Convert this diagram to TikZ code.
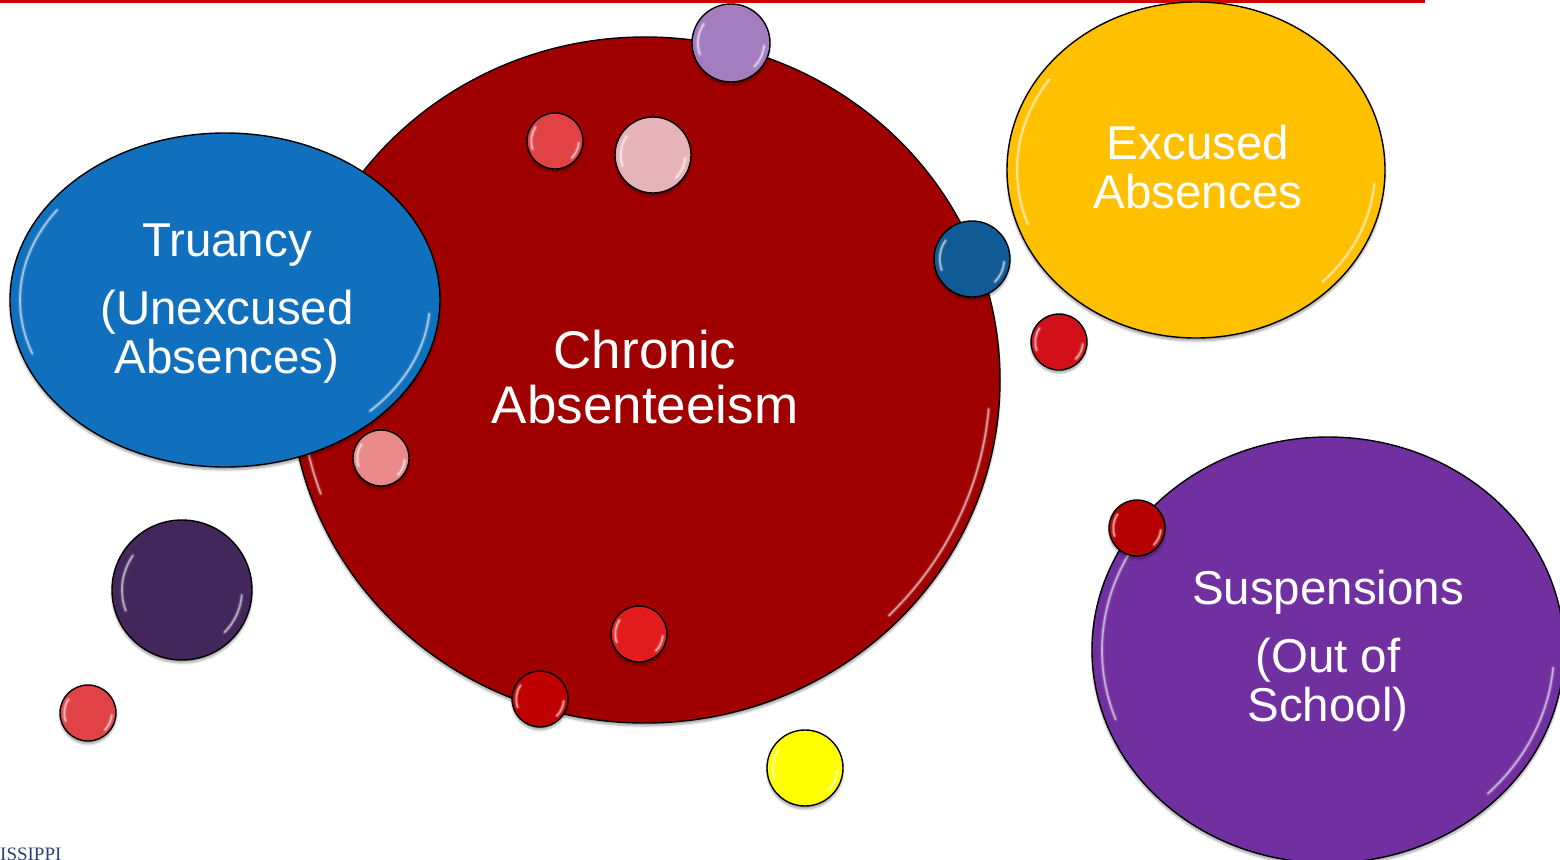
\documentclass[tikz,border=0pt]{standalone}
\usepackage{fontspec}
\setmainfont{Liberation Sans}
\newfontfamily\serifx{Liberation Serif}
\usetikzlibrary{shapes.geometric,shadows.blur}
\definecolor{topred}{HTML}{D00000}
\definecolor{mainred}{HTML}{A00000}
\definecolor{trublue}{HTML}{1170BD}
\definecolor{excyel}{HTML}{FFC000}
\definecolor{suspur}{HTML}{7030A0}
\definecolor{lav}{HTML}{A47DC0}
\definecolor{pinkb}{HTML}{E6B4B8}
\definecolor{dblue}{HTML}{105A95}
\definecolor{dpur}{HTML}{44275A}
\definecolor{redA}{HTML}{E04245}
\definecolor{redB}{HTML}{D31019}
\definecolor{coral}{HTML}{E88A8A}
\definecolor{redC}{HTML}{E21C1C}
\definecolor{redD}{HTML}{C00000}
\definecolor{redE}{HTML}{B40000}
\definecolor{yelb}{HTML}{FFFF00}
\definecolor{msblue}{HTML}{2E3F73}
\tikzset{
  bub/.style={ellipse, draw=black, line width=1.4pt, inner sep=0pt, text=white, align=center,
    blur shadow={shadow xshift=0pt, shadow yshift=-3pt, shadow blur steps=6, shadow opacity=35}},
  txtA/.style={font=\fontsize{47.5}{49}\selectfont, text=white, align=center},
  txtB/.style={font=\fontsize{53}{55}\selectfont, text=white, align=center},
  gl/.style={white, line cap=round},
}
% [opts] name, x, y, rx, ry, colour
\newcommand\bubble[7][]{%
  \node[bub, #1, fill=#7, minimum width=#5*2pt, minimum height=#6*2pt] (#2) at (#3,#4) {};
  \pgfmathsetmacro\ins{min(0.15*#5,10)}%
  \pgfmathsetmacro\ax{#5-\ins}%
  \pgfmathsetmacro\ay{#6-\ins}%
  \foreach \w/\o in {5/0.08,3/0.16,1.6/0.5}{%
    \draw[gl, line width=\w pt, opacity=\o] (#2.center) ++(145:\ax pt and \ay pt)
      arc[start angle=145, end angle=200, x radius=\ax pt, y radius=\ay pt];
    \draw[gl, line width=\w pt, opacity=\o] (#2.center) ++(-5:\ax pt and \ay pt)
      arc[start angle=-5, end angle=-45, x radius=\ax pt, y radius=\ay pt];
  }%
}
\begin{document}
\begin{tikzpicture}[x=1pt,y=-1pt]
\useasboundingbox (0,0) rectangle (1560,859);
\draw[topred, line width=3pt] (0,1.5) -- (1425,1.5);
\bubble{chronic}{645}{380}{355}{343}{mainred}
\node[txtB] (tchronic) at ([shift={(0,-3)}]chronic.center) {Chronic\\Absenteeism};
\bubble{truancy}{225}{300}{215}{167}{trublue}
\node[txtA] (ttruancy) at ([shift={(2,4)}]truancy.center) {Truancy\\[19pt](Unexcused\\Absences)};
\bubble{excused}{1196}{170}{189}{168}{excyel}
\node[txtA] (texcused) at ([shift={(2,-3)}]excused.center) {Excused\\Absences};
\bubble{susp}{1328}{650}{236}{213}{suspur}
\node[txtA] (tsusp) at ([shift={(0,1)}]susp.center) {Suspensions\\[19pt](Out of\\School)};
\bubble{b1}{731}{43}{39}{39}{lav}
\bubble{b2}{555}{141}{28}{28}{redA}
\bubble{b3}{653}{155}{38}{38}{pinkb}
\bubble{b4}{972}{259}{38}{38}{dblue}
\bubble{b5}{1059}{342}{28}{28}{redB}
\bubble{b6}{381}{458}{28}{28}{coral}
\bubble{b7}{182}{590}{70}{70}{dpur}
\bubble{b8}{88}{713}{28}{28}{redA}
\bubble{b9}{639}{634}{28}{28}{redC}
\bubble{b10}{540}{699}{28}{28}{redD}
\bubble{b11}{805}{768}{38}{38}{yelb}
\bubble{b12}{1137}{528}{28}{28}{redE}
\node[anchor=base west, inner sep=0pt, text=msblue, font=\serifx\fontsize{19}{19}\selectfont] (ms) at (0,860) {ISSIPPI};
\end{tikzpicture}
\end{document}
